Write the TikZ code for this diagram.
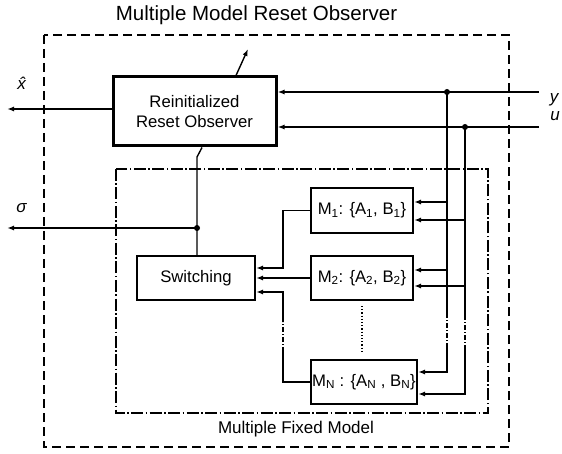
\documentclass[tikz,border=0pt]{standalone}
\usepackage{fontspec}
\setmainfont{Liberation Sans}
\usetikzlibrary{arrows.meta}
\begin{document}
\begin{tikzpicture}[x=1pt,y=-1pt,
  box/.style={draw, line width=2pt, rectangle, inner sep=0pt, font=\fontsize{16.7}{20}\selectfont, align=center},
  wire/.style={line width=1.4pt},
  arr/.style={wire, -{Latex[length=7pt,width=5pt]}},
  dotn/.style={circle, fill, inner sep=0pt, minimum size=6pt},
  lbl/.style={font=\fontsize{17}{20}\selectfont\itshape, inner sep=0pt},
  brk/.style={wire, dash pattern=on 5pt off 2pt on 1pt off 2pt},
  outerframe/.style={line width=2.5pt, dash pattern=on 9pt off 5pt},
  innerframe/.style={line width=1.1pt, dash pattern=on 12pt off 2.5pt on 1.5pt off 2.5pt},
]
\useasboundingbox (0,0) rectangle (562,454);
% frames
\draw[outerframe] (44,35) rectangle (509,447);
\draw[innerframe] (116,169) rectangle (488,413);
\node[font=\fontsize{20.5}{24}\selectfont] (title) at (256.5,15) {Multiple Model Reset Observer};
\node[font=\fontsize{17}{20}\selectfont] (mfm) at (296,429) {Multiple Fixed Model};
% blocks
\node[box, line width=3pt, minimum width=163pt, minimum height=69pt] (obs) at (194.5,111.5) {Reinitialized\\Reset Observer};
\node[box, minimum width=118pt, minimum height=44pt] (sw) at (196,278) {Switching};
\node[box, minimum width=102pt, minimum height=45pt] (m1) at (362,210.5) {M\textsubscript{1}: \{A\textsubscript{1}, B\textsubscript{1}\}};
\node[box, minimum width=102pt, minimum height=44pt] (m2) at (362,278) {M\textsubscript{2}: \{A\textsubscript{2}, B\textsubscript{2}\}};
\node[box, minimum width=106pt, minimum height=44pt] (mn) at (364,382) {M\textsubscript{N} : \{A\textsubscript{N} , B\textsubscript{N}\}};
% labels
\node[lbl, anchor=base] (ylab) at (554,103) {y};
\node[lbl, anchor=base] (ulab) at (555,121) {u};
\node[lbl, anchor=base] (siglab) at (21.5,213) {σ};
\node[lbl, anchor=base] (xlab) at (21.5,90) {\^{x}};
% coordinates
\coordinate (yin) at (539,92);
\coordinate (uin) at (539,127);
\node[dotn] (ydot) at (447,92) {};
\node[dotn] (udot) at (465,127) {};
\node[dotn] (sdot) at (197,228) {};
\coordinate (xout) at (7,109);
\coordinate (sout) at (7,228);
\coordinate (param) at (248,49);
\coordinate (bend) at (197,157);
% observer I/O
\draw[arr] (yin) -- (yin -| obs.east);
\draw[arr] (uin) -- (uin -| obs.east);
\draw[arr] ([yshift=2.5pt]obs.west) -- (xout);
\draw[arr] ([xshift=41.5pt]obs.north) -- (param);
\draw[wire] (sw.north -| sdot) -- (sdot.center) -- (bend) -- ([xshift=7.5pt]obs.south);
\draw[arr] (sdot.center) -- (sout);
% y drop
\coordinate (y1) at (447,202);
\coordinate (y2) at (447,270);
\coordinate (ya) at (447,313);
\coordinate (yb) at (447,345);
\coordinate (yN) at (447,372);
\draw[wire] (ydot.center) -- (ya);
\draw[brk] (ya) -- (yb);
\draw[arr] (yb) -- (yN) -- (yN -| mn.east);
\draw[arr] (y1) -- (y1 -| m1.east);
\draw[arr] (y2) -- (y2 -| m2.east);
% u drop
\coordinate (u1) at (465,220);
\coordinate (u2) at (465,286);
\coordinate (ua) at (465,315);
\coordinate (ub) at (465,350);
\coordinate (uN) at (465,394);
\draw[wire] (udot.center) -- (ua);
\draw[brk] (ua) -- (ub);
\draw[arr] (ub) -- (uN) -- (uN -| mn.east);
\draw[arr] (u1) -- (u1 -| m1.east);
\draw[arr] (u2) -- (u2 -| m2.east);
% models to switching
\coordinate (j1) at (283,268);
\draw[arr] (m1.west) -| (j1) -- (j1 -| sw.east);
\draw[arr] (m2.west) -- (m2.west -| sw.east);
\coordinate (jNa) at (283,352);
\coordinate (jNb) at (283,322);
\coordinate (jNc) at (283,292);
\draw[wire] (mn.west) -| (jNa);
\draw[brk] (jNa) -- (jNb);
\draw[arr] (jNb) -- (jNc) -- (jNc -| sw.east);
% ellipsis between M2 and MN
\draw[line width=1.2pt, dotted, shorten <=5pt, shorten >=7pt] (m2.south) -- (m2.south |- mn.north);
\end{tikzpicture}
\end{document}
